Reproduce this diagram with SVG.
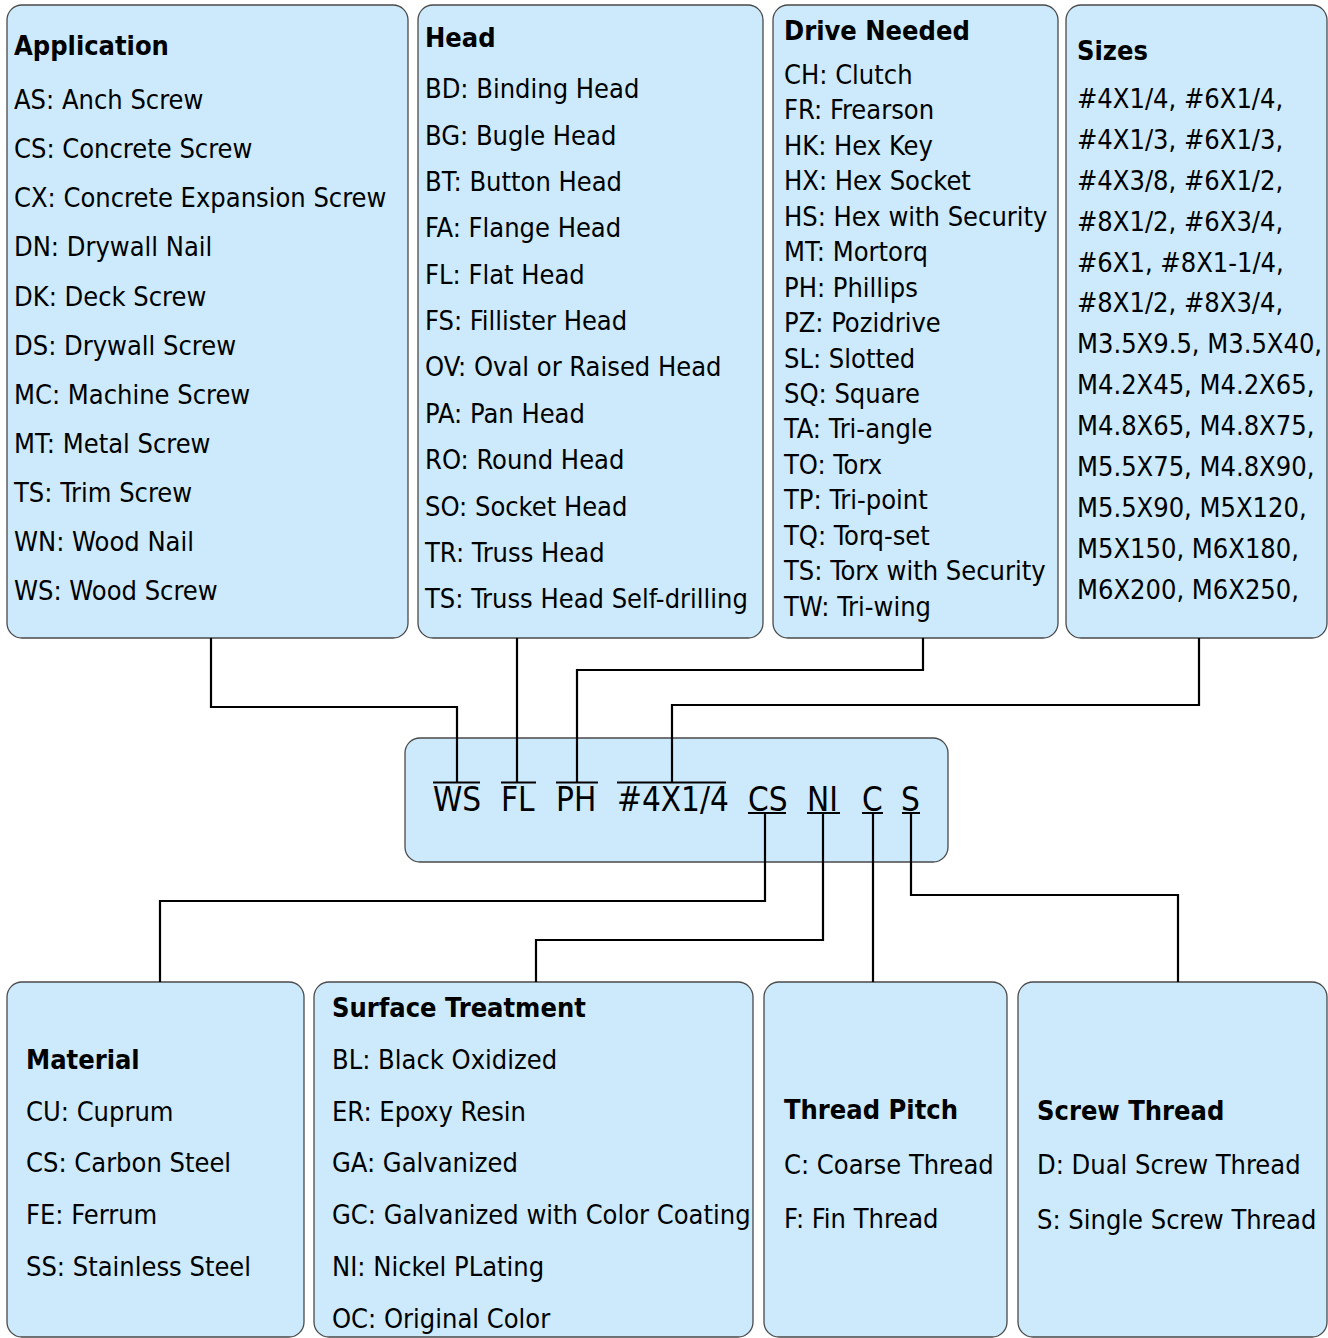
<svg xmlns="http://www.w3.org/2000/svg" width="1328" height="1338" viewBox="0 0 1328 1338">
<style>
.box{fill:#cceafc;stroke:#4a4a4a;stroke-width:1.3}
text{font-family:"DejaVu Sans Condensed","DejaVu Sans",sans-serif;font-stretch:condensed;font-size:27px;fill:#000}
.t{font-weight:bold}
.code{font-size:33px}
.conn{fill:none;stroke:#000;stroke-width:2.2}
.bar{stroke:#000;stroke-width:2}
</style>
<rect width="1328" height="1338" fill="#fff"/>
<g id="application">
<rect class="box" x="7" y="5" width="401" height="633" rx="15"/>
<text class="t" x="14" y="55">Application</text>
<text x="14" y="109">AS: Anch Screw</text>
<text x="14" y="158">CS: Concrete Screw</text>
<text x="14" y="207">CX: Concrete Expansion Screw</text>
<text x="14" y="256">DN: Drywall Nail</text>
<text x="14" y="306">DK: Deck Screw</text>
<text x="14" y="355">DS: Drywall Screw</text>
<text x="14" y="404">MC: Machine Screw</text>
<text x="14" y="453">MT: Metal Screw</text>
<text x="14" y="502">TS: Trim Screw</text>
<text x="14" y="551">WN: Wood Nail</text>
<text x="14" y="600">WS: Wood Screw</text>
</g>
<g id="head">
<rect class="box" x="418" y="5" width="345" height="633" rx="15"/>
<text class="t" x="425" y="47">Head</text>
<text x="425" y="98">BD: Binding Head</text>
<text x="425" y="145">BG: Bugle Head</text>
<text x="425" y="191">BT: Button Head</text>
<text x="425" y="237">FA: Flange Head</text>
<text x="425" y="284">FL: Flat Head</text>
<text x="425" y="330">FS: Fillister Head</text>
<text x="425" y="376">OV: Oval or Raised Head</text>
<text x="425" y="423">PA: Pan Head</text>
<text x="425" y="469">RO: Round Head</text>
<text x="425" y="516">SO: Socket Head</text>
<text x="425" y="562">TR: Truss Head</text>
<text x="425" y="608">TS: Truss Head Self-drilling</text>
</g>
<g id="drive">
<rect class="box" x="773" y="5" width="285" height="633" rx="15"/>
<text class="t" x="784" y="40">Drive Needed</text>
<text x="784" y="84">CH: Clutch</text>
<text x="784" y="119">FR: Frearson</text>
<text x="784" y="155">HK: Hex Key</text>
<text x="784" y="190">HX: Hex Socket</text>
<text x="784" y="226">HS: Hex with Security</text>
<text x="784" y="261">MT: Mortorq</text>
<text x="784" y="297">PH: Phillips</text>
<text x="784" y="332">PZ: Pozidrive</text>
<text x="784" y="368">SL: Slotted</text>
<text x="784" y="403">SQ: Square</text>
<text x="784" y="438">TA: Tri-angle</text>
<text x="784" y="474">TO: Torx</text>
<text x="784" y="509">TP: Tri-point</text>
<text x="784" y="545">TQ: Torq-set</text>
<text x="784" y="580">TS: Torx with Security</text>
<text x="784" y="616">TW: Tri-wing</text>
</g>
<g id="sizes">
<rect class="box" x="1066" y="5" width="261" height="633" rx="15"/>
<text class="t" x="1077" y="60">Sizes</text>
<text x="1077" y="108">#4X1/4, #6X1/4,</text>
<text x="1077" y="149">#4X1/3, #6X1/3,</text>
<text x="1077" y="190">#4X3/8, #6X1/2,</text>
<text x="1077" y="231">#8X1/2, #6X3/4,</text>
<text x="1077" y="272">#6X1, #8X1-1/4,</text>
<text x="1077" y="312">#8X1/2, #8X3/4,</text>
<text x="1077" y="353">M3.5X9.5, M3.5X40,</text>
<text x="1077" y="394">M4.2X45, M4.2X65,</text>
<text x="1077" y="435">M4.8X65, M4.8X75,</text>
<text x="1077" y="476">M5.5X75, M4.8X90,</text>
<text x="1077" y="517">M5.5X90, M5X120,</text>
<text x="1077" y="558">M5X150, M6X180,</text>
<text x="1077" y="599">M6X200, M6X250,</text>
</g>
<g id="code">
<rect class="box" x="405" y="738" width="543" height="124" rx="15"/>
<text class="code" x="433" y="811">WS</text>
<text class="code" x="501" y="811">FL</text>
<text class="code" x="556" y="811">PH</text>
<text class="code" x="617" y="811">#4X1/4</text>
<text class="code" x="748" y="811">CS</text>
<text class="code" x="807" y="811">NI</text>
<text class="code" x="862" y="811">C</text>
<text class="code" x="901" y="811">S</text>
<line class="bar" x1="433" y1="782.5" x2="480" y2="782.5"/>
<line class="bar" x1="501" y1="782.5" x2="536" y2="782.5"/>
<line class="bar" x1="556" y1="782.5" x2="598" y2="782.5"/>
<line class="bar" x1="617" y1="782.5" x2="726" y2="782.5"/>
<line class="bar" x1="748" y1="813" x2="786" y2="813"/>
<line class="bar" x1="807" y1="813" x2="840" y2="813"/>
<line class="bar" x1="862" y1="813" x2="883" y2="813"/>
<line class="bar" x1="902" y1="813" x2="920" y2="813"/>
</g>
<g id="material">
<rect class="box" x="7" y="982" width="297" height="355" rx="15"/>
<text class="t" x="26" y="1069">Material</text>
<text x="26" y="1121">CU: Cuprum</text>
<text x="26" y="1172">CS: Carbon Steel</text>
<text x="26" y="1224">FE: Ferrum</text>
<text x="26" y="1276">SS: Stainless Steel</text>
</g>
<g id="surface">
<rect class="box" x="314" y="982" width="439" height="355" rx="15"/>
<text class="t" x="332" y="1017">Surface Treatment</text>
<text x="332" y="1069">BL: Black Oxidized</text>
<text x="332" y="1121">ER: Epoxy Resin</text>
<text x="332" y="1172">GA: Galvanized</text>
<text x="332" y="1224">GC: Galvanized with Color Coating</text>
<text x="332" y="1276">NI: Nickel PLating</text>
<text x="332" y="1328">OC: Original Color</text>
</g>
<g id="pitch">
<rect class="box" x="764" y="982" width="243" height="355" rx="15"/>
<text class="t" x="784" y="1119">Thread Pitch</text>
<text x="784" y="1174">C: Coarse Thread</text>
<text x="784" y="1228">F: Fin Thread</text>
</g>
<g id="thread">
<rect class="box" x="1018" y="982" width="309" height="355" rx="15"/>
<text class="t" x="1037" y="1120">Screw Thread</text>
<text x="1037" y="1174">D: Dual Screw Thread</text>
<text x="1037" y="1229">S: Single Screw Thread</text>
</g>
<g id="connectors">
<polyline class="conn" points="211,638 211,707 457,707 457,782"/>
<polyline class="conn" points="517,638 517,782"/>
<polyline class="conn" points="923,638 923,670 577,670 577,782"/>
<polyline class="conn" points="1199,638 1199,705 672,705 672,782"/>
<polyline class="conn" points="765,813 765,901 160,901 160,982"/>
<polyline class="conn" points="823,813 823,940 536,940 536,982"/>
<polyline class="conn" points="873,813 873,982"/>
<polyline class="conn" points="911,813 911,895 1178,895 1178,982"/>
</g>
</svg>
